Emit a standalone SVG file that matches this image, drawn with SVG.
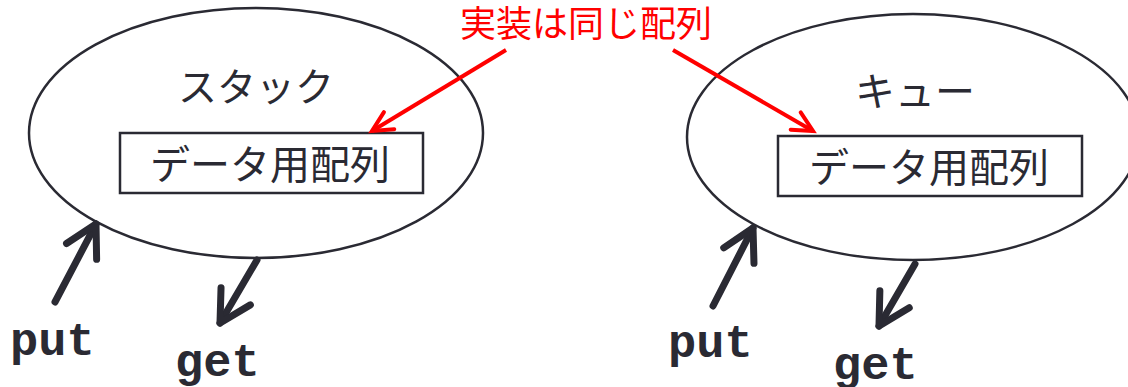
<svg xmlns="http://www.w3.org/2000/svg" width="1128" height="387" viewBox="0 0 1128 387">
<style>
.ell{fill:none;stroke:#2a2a33;stroke-width:2.5}
.box{fill:#fff;stroke:#2a2a33;stroke-width:2.5}
.jp{font-family:"Noto Sans CJK JP","Noto Sans CJK SC",sans-serif;fill:#2a2a33;text-anchor:middle}
.red{fill:#ff0000}
.mono{font-family:"Liberation Mono","Courier New",monospace;font-weight:bold;font-size:47px;fill:#2a2a33}
.ra{stroke:#ff0000;stroke-width:4;fill:none;marker-end:url(#redhead)}
.ba{stroke:#2a2a33;stroke-width:7;fill:none;stroke-linecap:round;marker-end:url(#blackhead)}
</style>
<defs>
<marker id="redhead" markerUnits="userSpaceOnUse" markerWidth="40" markerHeight="40" viewBox="-30 -20 40 40" refX="0" refY="0" orient="auto">
<path d="M-20,-10 L0,0 L-20,10" fill="none" stroke="#ff0000" stroke-width="4" stroke-linecap="round"/>
</marker>
<marker id="blackhead" markerUnits="userSpaceOnUse" markerWidth="60" markerHeight="60" viewBox="-45 -30 60 60" refX="0" refY="0" orient="auto">
<path d="M-31,-17 L0,0 L-31,17" fill="none" stroke="#2a2a33" stroke-width="7" stroke-linecap="round" stroke-linejoin="round"/>
</marker>
</defs>
<g id="stack">
<ellipse class="ell" cx="256" cy="133" rx="227" ry="125"/>
<text class="jp" x="256" y="101" font-size="39">スタック</text>
<rect class="box" x="120" y="133" width="303" height="60"/>
<text class="jp" x="270" y="179" font-size="40">データ用配列</text>
</g>
<g id="queue">
<ellipse class="ell" cx="913" cy="137" rx="226" ry="123"/>
<text class="jp" x="915" y="106" font-size="40">キュー</text>
<rect class="box" x="778" y="136" width="304" height="60"/>
<text class="jp" x="929" y="182" font-size="40">データ用配列</text>
</g>
<g id="note">
<text class="jp red" x="586" y="37" font-size="36">実装は同じ配列</text>
</g>
<g id="labels">
<text class="mono" x="10" y="355">put</text>
<text class="mono" x="175" y="376">get</text>
<text class="mono" x="668" y="357">put</text>
<text class="mono" x="833" y="379">get</text>
</g>
<g id="connectors">
<line class="ra" x1="506" y1="50" x2="372" y2="131"/>
<line class="ra" x1="673" y1="50" x2="813" y2="131"/>
<line class="ba" x1="55" y1="302" x2="96" y2="224"/>
<line class="ba" x1="257" y1="260" x2="220" y2="323"/>
<line class="ba" x1="713" y1="306" x2="753" y2="228"/>
<line class="ba" x1="915" y1="264" x2="879" y2="326"/>
</g>
</svg>
